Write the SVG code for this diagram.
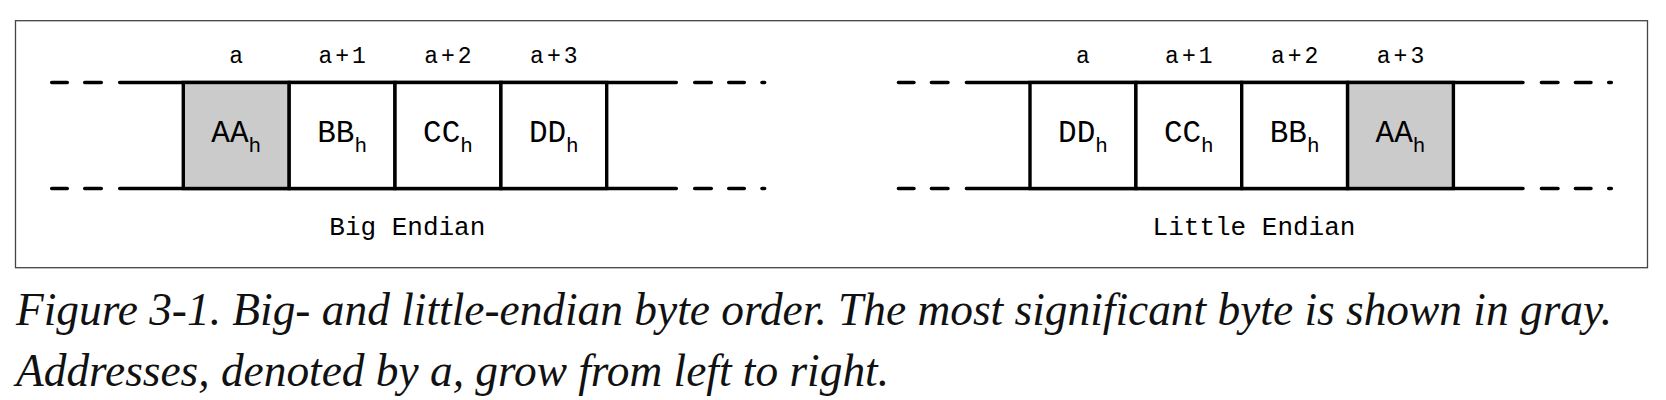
<svg xmlns="http://www.w3.org/2000/svg" width="1666" height="400" viewBox="0 0 1666 400">
  <style>
    .rail { stroke: #000; stroke-width: 3.6; stroke-linecap: round; fill: none; }
    .cell { stroke: #000; stroke-width: 3.4; fill: #fff; }
    .cell.msb { fill: #cbcbcb; }
    .addr { font-family: "Liberation Mono", "DejaVu Sans Mono", monospace; font-size: 23px; fill: #000; text-anchor: middle; }
    .addr.sp { letter-spacing: 3px; }
    .val { font-family: "Liberation Mono", "DejaVu Sans Mono", monospace; font-size: 31px; fill: #000; text-anchor: middle; }
    .sub { font-size: 21px; }
    .title { font-family: "Liberation Mono", "DejaVu Sans Mono", monospace; font-size: 26px; fill: #000; text-anchor: middle; }
    .caption { font-family: "Liberation Serif", "Times New Roman", serif; font-style: italic; font-size: 46px; fill: #111; }
  </style>
  <rect width="1666" height="400" fill="#fff"/>
  <rect id="frame" x="15.5" y="20.7" width="1632" height="247" fill="none" stroke="#444" stroke-width="1.3"/>

  <g id="connectors">
    <g id="big-rails">
      <path class="rail" d="M51.75 82.5H67.25M84.75 82.5H101.25M119.75 82.5H676.25M694.75 82.5H711.25M728.75 82.5H744.25M762 82.5H764.6"/>
      <path class="rail" d="M51.75 188.5H67.25M84.75 188.5H101.25M119.75 188.5H676.25M694.75 188.5H711.25M728.75 188.5H744.25M762 188.5H764.6"/>
    </g>
    <g id="little-rails" transform="translate(846.7 0)">
      <path class="rail" d="M51.75 82.5H67.25M84.75 82.5H101.25M119.75 82.5H676.25M694.75 82.5H711.25M728.75 82.5H744.25M762 82.5H764.6"/>
      <path class="rail" d="M51.75 188.5H67.25M84.75 188.5H101.25M119.75 188.5H676.25M694.75 188.5H711.25M728.75 188.5H744.25M762 188.5H764.6"/>
    </g>
  </g>

  <!-- Big Endian -->
  <g id="be-0">
    <rect class="cell msb" x="183.3" y="82.5" width="105.9" height="106"/>
    <text class="addr" x="236.25" y="63">a</text>
    <text class="val" x="236.25" y="142">AA<tspan class="sub" dy="10">h</tspan></text>
  </g>
  <g id="be-1">
    <rect class="cell" x="289.2" y="82.5" width="105.8" height="106"/>
    <text class="addr sp" x="343.6" y="63">a+1</text>
    <text class="val" x="342.1" y="142">BB<tspan class="sub" dy="10">h</tspan></text>
  </g>
  <g id="be-2">
    <rect class="cell" x="395" y="82.5" width="105.9" height="106"/>
    <text class="addr sp" x="449.45" y="63">a+2</text>
    <text class="val" x="447.95" y="142">CC<tspan class="sub" dy="10">h</tspan></text>
  </g>
  <g id="be-3">
    <rect class="cell" x="500.9" y="82.5" width="105.8" height="106"/>
    <text class="addr sp" x="555.3" y="63">a+3</text>
    <text class="val" x="553.8" y="142">DD<tspan class="sub" dy="10">h</tspan></text>
  </g>
  <g id="be-title">
    <text class="title" x="407.3" y="234.5">Big Endian</text>
  </g>

  <!-- Little Endian -->
  <g id="le-0">
    <rect class="cell" x="1030" y="82.5" width="105.9" height="106"/>
    <text class="addr" x="1082.95" y="63">a</text>
    <text class="val" x="1082.95" y="142">DD<tspan class="sub" dy="10">h</tspan></text>
  </g>
  <g id="le-1">
    <rect class="cell" x="1135.9" y="82.5" width="105.8" height="106"/>
    <text class="addr sp" x="1190.3" y="63">a+1</text>
    <text class="val" x="1188.8" y="142">CC<tspan class="sub" dy="10">h</tspan></text>
  </g>
  <g id="le-2">
    <rect class="cell" x="1241.7" y="82.5" width="105.9" height="106"/>
    <text class="addr sp" x="1296.15" y="63">a+2</text>
    <text class="val" x="1294.65" y="142">BB<tspan class="sub" dy="10">h</tspan></text>
  </g>
  <g id="le-3">
    <rect class="cell msb" x="1347.6" y="82.5" width="105.8" height="106"/>
    <text class="addr sp" x="1402" y="63">a+3</text>
    <text class="val" x="1400.5" y="142">AA<tspan class="sub" dy="10">h</tspan></text>
  </g>
  <g id="le-title">
    <text class="title" x="1254" y="234.5">Little Endian</text>
  </g>

  <g id="caption">
    <text class="caption" x="16" y="325" textLength="1596" lengthAdjust="spacingAndGlyphs">Figure 3-1. Big- and little-endian byte order. The most significant byte is shown in gray.</text>
    <text class="caption" x="16" y="386" textLength="873" lengthAdjust="spacingAndGlyphs">Addresses, denoted by a, grow from left to right.</text>
  </g>
</svg>
